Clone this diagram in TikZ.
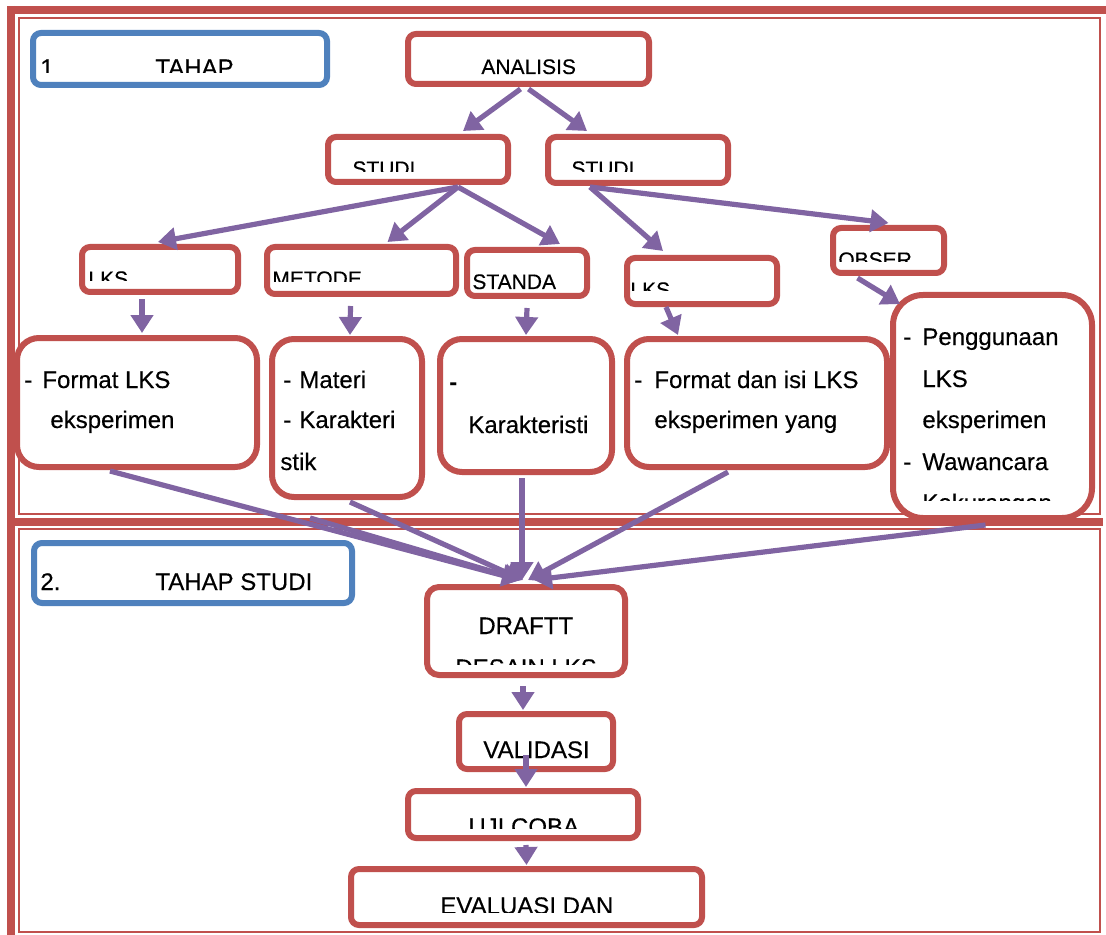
\documentclass[tikz,border=0pt]{standalone}
\usepackage{fontspec}
\setmainfont{Liberation Sans}[UprightFeatures={FakeBold=0.35}]
\usetikzlibrary{calc,fit,arrows.meta}

\definecolor{boxred}{HTML}{C0504D}
\definecolor{boxblue}{HTML}{4F81BD}
\definecolor{flowpurple}{HTML}{8064A2}

\begin{document}
\begin{tikzpicture}[x=0.5pt,y=-0.5pt]
  % Styles
  \tikzstyle{frame thick}=[draw=boxred,line width=4pt]
  \tikzstyle{frame thin}=[draw=boxred,line width=1.2pt]
  \tikzstyle{red box}=[draw=boxred,line width=3pt,rounded corners=4pt,fill=white,inner sep=0pt]
  \tikzstyle{big box}=[red box,rounded corners=11pt]
  \tikzstyle{blue box}=[red box,draw=boxblue]
  \tikzstyle{flow}=[draw=flowpurple,line width=2.6pt,-{Triangle[width=11pt,length=9pt]}]
  \tikzstyle{small text}=[anchor=base west,inner sep=0pt,font=\fontsize{10.5}{12}\selectfont]
  \tikzstyle{mid text}=[anchor=base west,inner sep=0pt,font=\fontsize{12}{14}\selectfont]
  \tikzstyle{big text}=[anchor=base west,inner sep=0pt,font=\fontsize{12}{15}\selectfont]

  \useasboundingbox (0,0) rectangle (1106,935);

  % Frame
  \draw[frame thin] (19,18) rectangle (1100,514);
  \draw[frame thin] (19,529) rectangle (1100,932);
  \draw[frame thick] (7,10) -- (1106,10);
  \draw[frame thick] (11,6) -- (11,935);
  \draw[frame thick] (7,522) -- (1103,522);

  % Stage 1 boxes
  \node[blue box,fit={(33,33) (327,85)}] (tahapA) {};
  \node[red box,fit={(408,34) (649,84)}] (analisis) {};
  \node[red box,fit={(328,137) (508,182)}] (studiA) {};
  \node[red box,fit={(548,137) (728,183)}] (studiB) {};
  \node[red box,fit={(82,247) (238,292)}] (lksA) {};
  \node[red box,fit={(267,247) (456,294)}] (metode) {};
  \node[red box,fit={(467,250) (587,296)}] (standa) {};
  \node[red box,fit={(627,258) (777,304)}] (lksB) {};
  \node[red box,fit={(833,228) (944,273)}] (obser) {};
  \node[big box,fit={(17,338) (257,467)}] (formatA) {};
  \node[big box,fit={(272,339) (422,497)}] (materi) {};
  \node[big box,fit={(440,339) (612,472)}] (karak) {};
  \node[big box,fit={(627,339) (887,467)}] (formatB) {};
  \node[big box,rounded corners=15pt,fit={(893,295) (1092,518)}] (pengg) {};

  % Stage 2 boxes
  \node[blue box,fit={(34,543) (352,603)}] (tahapB) {};
  \node[red box,rounded corners=6pt,fit={(427,587) (625,675)}] (draftt) {};
  \node[red box,fit={(459,714) (613,769)}] (validasi) {};
  \node[red box,fit={(408,791) (638,838)}] (ujicoba) {};
  \node[red box,fit={(351,869) (702,925)}] (evaluasi) {};

  % Texts
  \begin{scope}
    \clip (36,36) rectangle (324,73);
    \node[mid text] (numA) at (40,76) {1};
    \node[mid text] (tahapAtext) at (155,76) {TAHAP};
  \end{scope}
  \node[small text] (analisistext) at (481,74) {ANALISIS};
  \begin{scope}
    \clip (331,140) rectangle (505,172);
    \node[small text] (studiAtext) at (352,176) {STUDI};
  \end{scope}
  \begin{scope}
    \clip (551,140) rectangle (725,172);
    \node[small text] (studiBtext) at (571,176) {STUDI};
  \end{scope}
  \begin{scope}
    \clip (85,250) rectangle (235,281);
    \node[small text] (lksAtext) at (88,286) {LKS};
  \end{scope}
  \begin{scope}
    \clip (270,250) rectangle (453,282);
    \node[small text] (metodetext) at (272,286) {METODE};
  \end{scope}
  \begin{scope}
    \clip (470,253) rectangle (584,290);
    \node[small text] (standatext) at (472,289) {STANDA};
  \end{scope}
  \begin{scope}
    \clip (630,261) rectangle (774,291);
    \node[small text] (lksBtext) at (630,297) {LKS};
  \end{scope}
  \begin{scope}
    \clip (836,231) rectangle (941,262);
    \node[small text] (obsertext) at (838,267) {OBSER};
  \end{scope}

  \node[big text] (dashA) at (24,388) {-};
  \node[big text] (formatAone) at (42,388) {Format LKS};
  \node[big text] (formatAtwo) at (50,428) {eksperimen};

  \node[big text] (dashB) at (283,388) {-};
  \node[big text] (materione) at (299,388) {Materi};
  \node[big text] (dashC) at (283,428) {-};
  \node[big text] (materitwo) at (299,428) {Karakteri};
  \node[big text] (materithree) at (280,470) {stik};

  \node[big text] (dashD) at (449,390) {\bfseries -};
  \node[big text] (karaktext) at (468,433) {Karakteristi};

  \node[big text] (dashE) at (634,388) {-};
  \node[big text] (formatBone) at (654,388) {Format dan isi LKS};
  \node[big text] (formatBtwo) at (654,428) {eksperimen yang};

  \node[big text] (dashF) at (903,345) {-};
  \node[big text] (penggone) at (922,345) {Penggunaan};
  \node[big text] (penggtwo) at (922,387) {LKS};
  \node[big text] (penggthree) at (922,428) {eksperimen};
  \node[big text] (dashG) at (903,470) {-};
  \node[big text] (penggfour) at (922,470) {Wawancara};
  \begin{scope}
    \clip (900,480) rectangle (1085,500);
    \node[big text] (penggfive) at (922,511) {Kekurangan};
  \end{scope}

  \node[mid text] (numB) at (40,590) {2.};
  \node[mid text] (tahapBtext) at (155,590) {TAHAP STUDI};
  \node[mid text] (draftttext) at (478,634) {DRAFTT};
  \begin{scope}
    \clip (430,645) rectangle (622,664);
    \node[mid text] (desaintext) at (455,676) {DESAIN LKS};
  \end{scope}
  \node[mid text] (validasitext) at (483,758) {VALIDASI};
  \begin{scope}
    \clip (411,794) rectangle (635,828);
    \node[mid text] (ujicobatext) at (468,835) {UJI COBA};
  \end{scope}
  \begin{scope}
    \clip (354,872) rectangle (699,912);
    \node[mid text] (evaluasitext) at (440,914) {EVALUASI DAN};
  \end{scope}

  % Arrows
  \coordinate (sepstart) at (310,518);
  \draw[flow] ($(analisis.south)+(-8,2)$) -- ($(studiA.north)+(45,-3)$);
  \draw[flow] ($(analisis.south)+(0,2)$) -- ($(studiB.north)+(-51,-3)$);
  \draw[flow] ($(studiA.south)+(40,2)$) -- ($(lksA.north)+(-2,-2)$);
  \draw[flow] ($(studiA.south)+(40,2)$) -- ($(metode.north)+(26,-2)$);
  \draw[flow] ($(studiA.south)+(40,2)$) -- ($(standa.north)+(33,-3)$);
  \draw[flow] ($(studiB.south)+(-48,1)$) -- ($(lksB.north)+(-39,-4)$);
  \draw[flow] ($(studiB.south)+(-48,1)$) -- ($(obser.north)+(0,-2)$);
  \draw[flow] ($(lksA.south)+(-18,4)$) -- ($(formatA.north)+(5,-2)$);
  \draw[flow] ($(metode.south)+(-11,9)$) -- ($(materi.north)+(3,-1)$);
  \draw[flow] ($(standa.south)+(0,9)$) -- ($(karak.north)+(0,-1)$);
  \draw[flow] ($(lksB.south)+(-36,0)$) -- ($(formatB.north)+(-79,-1)$);
  \draw[flow] ($(obser.south)+(-31,2)$) -- ($(pengg.north west)+(10,12)$);
  \draw[flow] ($(formatA.south)+(-27,1)$) -- ($(draftt.north)+(-6,-4)$);
  \draw[flow] (sepstart) -- ($(draftt.north)+(-5,-4)$);
  \draw[flow] ($(materi.south)+(3,2)$) -- ($(draftt.north)+(-3,-4)$);
  \draw[flow] ($(karak.south)+(-4,3)$) -- ($(draftt.north)+(-4,-4)$);
  \draw[flow] ($(formatB.south)+(-29,2)$) -- ($(draftt.north)+(2,-4)$);
  \draw[flow] ($(pengg.south)+(-7,4)$) -- ($(draftt.north)+(8,-4)$);
  \draw[flow] ($(draftt.south)+(-3,8)$) -- ($(validasi.north)+(-13,-1)$);
  \draw[flow] ($(validasi.south)+(-10,-17)$) -- ($(ujicoba.north)+(3,-1)$);
  \draw[flow] ($(ujicoba.south)+(3,4)$) -- ($(evaluasi.north)+(0,-1)$);
\end{tikzpicture}
\end{document}
